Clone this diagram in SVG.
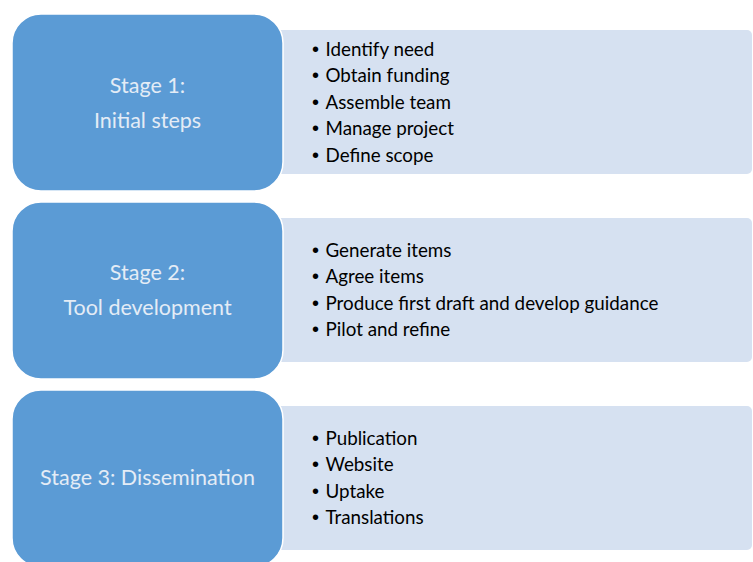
<svg xmlns="http://www.w3.org/2000/svg" width="753" height="562" viewBox="0 0 753 562">
<style>
.panel{fill:#D6E1F1}
.stage{fill:#5B9BD5;stroke:#FFFFFF;stroke-width:1.5}
.st{font-family:Lato,"Liberation Sans",sans-serif;font-size:21.5px;fill:#E4ECF6;text-anchor:middle}
.it{font-family:Lato,"Liberation Sans",sans-serif;font-size:18.8px;fill:#000000}
.bu{font-family:"Liberation Sans",sans-serif;font-size:20px;fill:#000000}
</style>
<rect width="753" height="562" fill="#FFFFFF"/>
<g id="stage1">
<rect class="panel" x="260" y="30" width="492" height="144" rx="5"/>
<rect class="stage" x="12" y="14" width="271" height="177" rx="29"/>
<text class="st" x="147.5" y="93">Stage 1:</text>
<text class="st" x="147.5" y="128">Initial steps</text>
<g>
<text class="bu" x="312" y="55.5">•</text><text class="it" x="325.5" y="55.5">Identify need</text>
<text class="bu" x="312" y="82">•</text><text class="it" x="325.5" y="82">Obtain funding</text>
<text class="bu" x="312" y="108.5">•</text><text class="it" x="325.5" y="108.5">Assemble team</text>
<text class="bu" x="312" y="135">•</text><text class="it" x="325.5" y="135">Manage project</text>
<text class="bu" x="312" y="161.5">•</text><text class="it" x="325.5" y="161.5">Define scope</text>
</g>
</g>
<g id="stage2">
<rect class="panel" x="260" y="218" width="492" height="144" rx="5"/>
<rect class="stage" x="12" y="202" width="271" height="177" rx="29"/>
<text class="st" x="147.5" y="280">Stage 2:</text>
<text class="st" x="147.5" y="315">Tool development</text>
<g>
<text class="bu" x="312" y="256.5">•</text><text class="it" x="325.5" y="256.5">Generate items</text>
<text class="bu" x="312" y="283">•</text><text class="it" x="325.5" y="283">Agree items</text>
<text class="bu" x="312" y="309.5">•</text><text class="it" x="325.5" y="309.5">Produce first draft and develop guidance</text>
<text class="bu" x="312" y="336">•</text><text class="it" x="325.5" y="336">Pilot and refine</text>
</g>
</g>
<g id="stage3">
<rect class="panel" x="260" y="406" width="492" height="144" rx="5"/>
<rect class="stage" x="12" y="390" width="271" height="177" rx="29"/>
<text class="st" x="147.5" y="485">Stage 3: Dissemination</text>
<g>
<text class="bu" x="312" y="444.5">•</text><text class="it" x="325.5" y="444.5">Publication</text>
<text class="bu" x="312" y="471">•</text><text class="it" x="325.5" y="471">Website</text>
<text class="bu" x="312" y="497.5">•</text><text class="it" x="325.5" y="497.5">Uptake</text>
<text class="bu" x="312" y="524">•</text><text class="it" x="325.5" y="524">Translations</text>
</g>
</g>
<g id="connectors"/>
</svg>
